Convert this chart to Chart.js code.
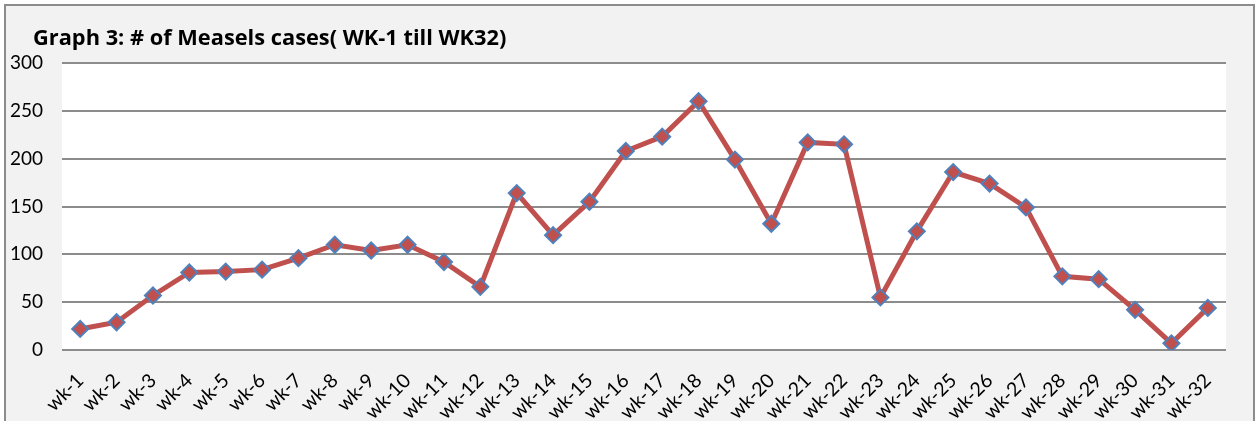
<!DOCTYPE html>
<html>
<head>
<meta charset="utf-8">
<script src="https://cdn.jsdelivr.net/npm/chart.js@4"></script>
<style>
  html, body { margin: 0; padding: 0; background: #ffffff; }
  #wrap { position: relative; width: 1255px; height: 421px; }
</style>
</head>
<body>
<div id="wrap"><canvas id="line-chart" width="1255" height="421"></canvas></div>
<script>
const chartTitle = "Graph 3: # of Measels cases( WK-1 till WK32)";
const weeks = [
  "wk-1", "wk-2", "wk-3", "wk-4", "wk-5", "wk-6", "wk-7", "wk-8",
  "wk-9", "wk-10", "wk-11", "wk-12", "wk-13", "wk-14", "wk-15", "wk-16",
  "wk-17", "wk-18", "wk-19", "wk-20", "wk-21", "wk-22", "wk-23", "wk-24",
  "wk-25", "wk-26", "wk-27", "wk-28", "wk-29", "wk-30", "wk-31", "wk-32"
];
const measlesCases = [
  22, 29, 57, 81, 82, 84, 96, 110,
  104, 110, 92, 66, 164, 120, 155, 208,
  223, 260, 199, 132, 217, 215, 55, 124,
  186, 174, 149, 77, 74, 42, 7, 44
];
const yTicks = [0, 50, 100, 150, 200, 250, 300];

// grey frame, white plot area and the title, like the Excel chart
const framePlugin = {
  id: "frame",
  beforeDraw(chart) {
    const ctx = chart.ctx;
    const a = chart.chartArea;
    ctx.save();
    ctx.fillStyle = "#f2f2f2";
    ctx.fillRect(5, 5, 1249, 430);
    ctx.strokeStyle = "#8c8c8c";
    ctx.lineWidth = 2;
    ctx.strokeRect(5, 5, 1249, 430);
    ctx.fillStyle = "#ffffff";
    ctx.fillRect(a.left, a.top, a.right - a.left, a.bottom - a.top);

    ctx.fillStyle = "#000000";
    ctx.font = "bold 21.8px 'Open Sans'";
    ctx.textAlign = "left";
    ctx.textBaseline = "alphabetic";
    ctx.fillText(chartTitle, 33, 45);
    ctx.restore();
  }
};

const ctx = document.getElementById("line-chart").getContext("2d");

new Chart(ctx, {
  type: "line",
  data: {
    labels: weeks,
    datasets: [
      {
        label: "# of Measels cases",
        data: measlesCases,
        fill: false,
        borderColor: "#c0504d",
        borderWidth: 5,
        tension: 0,
        pointStyle: "rectRot",
        pointRadius: 8,
        pointBackgroundColor: "#c0504d",
        pointBorderColor: "#4f81bd",
        pointBorderWidth: 2,
      },
    ],
  },
  options: {
    responsive: false,
    animation: false,
    layout: {
      padding: { left: 10, right: 29, top: 63, bottom: 0 },
    },
    plugins: {
      legend: { display: false },
      tooltip: { enabled: false },
      title: { display: false },
    },
    scales: {
      x: {
        offset: true,
        grid: { display: false, drawTicks: false },
        border: { display: false },
        ticks: {
          color: "#000000",
          font: { family: "Lato", size: 19.5 },
          minRotation: 45,
          maxRotation: 45,
          padding: 19,
          autoSkip: false,
        },
        afterFit(scale) {
          scale.height = 71;
        },
      },
      y: {
        min: 0,
        max: 300,
        grid: { color: "#8c8c8c", lineWidth: 2, drawTicks: false },
        border: { display: false },
        ticks: {
          stepSize: 50,
          color: "#000000",
          font: { family: "Lato", size: 19 },
          padding: 19,
          callback: (v) => (yTicks.includes(v) ? String(v) : ""),
        },
        afterFit(scale) {
          scale.width = 52;
        },
      },
    },
  },
  plugins: [framePlugin],
});
</script>
</body>
</html>
